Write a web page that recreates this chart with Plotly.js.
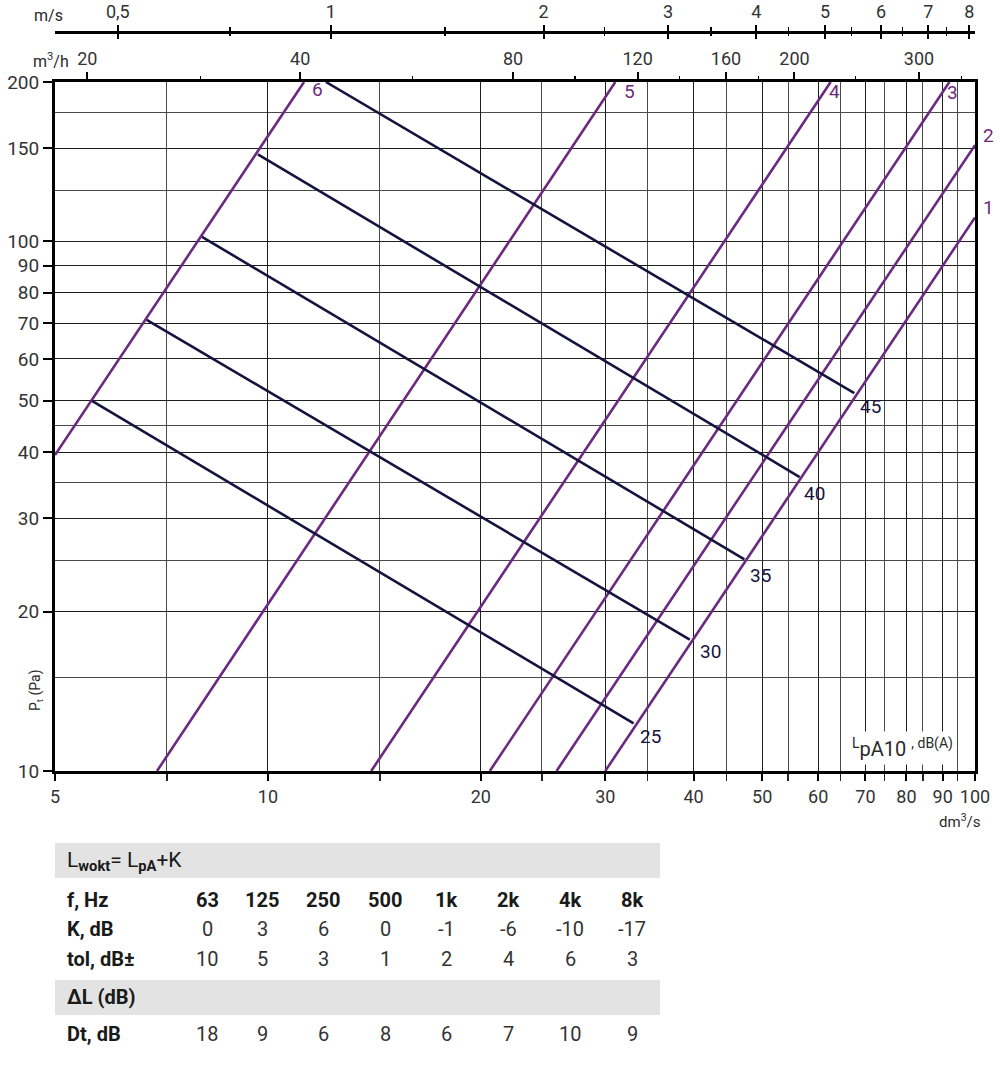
<!DOCTYPE html>
<html><head><meta charset="utf-8">
<script src="https://cdn.plot.ly/plotly-3.0.1.min.js"></script>
<style>html,body{margin:0;padding:0;background:#fff}</style>
</head><body>
<div id="chart" style="width:1000px;height:1071px"></div>
<script>
// ---- data ----
const flowTicks = [5,10,20,30,40,50,60,70,80,90,100];
const flowMinor = [7.2,14.4,24.4,34.4,44.5,54.4,64.5,74.5,84.4,94.4];
const pressTicks = [10,20,30,40,50,60,70,80,90,100,150,200];
const pressMinor = [15,25,35,45,125,175];
const velTicks = [0.5,1,2,3,4,5,6,7,8];
const velLabels = ['0,5','1','2','3','4','5','6','7','8'];
const velMinor = [0.72,1.45,2.44,3.45,4.44,5.45,6.44,7.43];
const m3hTicks = [20,40,80,120,160,200,300];
const m3hMinor = [28.9,57.7,97.8,137.6,177.9,243.9,344.4];

const curveNames = ['6','5','4','3','2','1'];
const curveQ = [[5,11.25],[6.97,31.0],[14.0,62.5],[20.6,92.0],[25.6,100],[30.0,100]];
const curveP = [[39.5,200],[10,200],[10,200],[10,200],[10,152],[10,111]];

const levelNames = ['45','40','35','30','25'];
const levelQ = [[12.08,67.5],[9.68,56.5],[8.07,47.2],[6.74,39.5],[5.64,32.9]];
const levelP = [[200,51.7],[146,35.9],[102,25.1],[71.1,17.7],[50.0,12.3]];

const freqs = ['63','125','250','500','1k','2k','4k','8k'];
const kValues = [0,3,6,0,-1,-6,-10,-17];
const tolValues = [10,5,3,1,2,4,6,3];
const dtValues = [18,9,6,8,6,7,10,9];

// ---- configuration ----
const DUCT_AREA = 12.27;   // dm2 (125 mm duct) : m/s = dm3/s / area
const M3H = 3.6;           // m3/h per dm3/s
const W = 1000, H = 1071, ML = 55, MR = 25;
const px2x = px => (px - ML) / (W - ML - MR);
const py2y = py => 1 - py / H;
const lg = Math.log10;
const FONT = 'Roboto, "Open Sans", sans-serif';
const PURPLE = '#6b2a7e';
const NAVY = '#17133f';
const TXT = '#2a2a2a';

const traces = [];
curveNames.forEach((n, i) => traces.push({
  x: curveQ[i], y: curveP[i], mode: 'lines', type: 'scatter',
  line: {color: PURPLE, width: 2.6}, hoverinfo: 'skip', showlegend: false
}));
levelNames.forEach((n, i) => traces.push({
  x: levelQ[i], y: levelP[i], mode: 'lines', type: 'scatter',
  line: {color: NAVY, width: 2.6}, hoverinfo: 'skip', showlegend: false
}));
// carriers for the secondary (top) axes
traces.push({x: velTicks, y: velTicks.map(() => 10), xaxis: 'x2', yaxis: 'y', mode: 'markers',
  marker: {opacity: 0}, hoverinfo: 'skip', showlegend: false});
traces.push({x: m3hTicks, y: m3hTicks.map(() => 10), xaxis: 'x3', yaxis: 'y', mode: 'markers',
  marker: {opacity: 0}, hoverinfo: 'skip', showlegend: false});
traces.push({x: velTicks, y: velTicks.map(() => 10), xaxis: 'x4', yaxis: 'y', mode: 'markers',
  marker: {opacity: 0}, hoverinfo: 'skip', showlegend: false});

const annotations = [];
function note(o) {
  annotations.push(Object.assign({showarrow: false, xanchor: 'center', yanchor: 'middle'}, o));
}
// curve labels
const curveShift = {'6':[13,-8],'5':[14,-10],'4':[4,-10],'3':[3,-11],'2':[13,10],'1':[13,10]};
curveNames.forEach((n, i) => note({
  xref: 'x', yref: 'y', x: lg(curveQ[i][1]), y: lg(curveP[i][1]), text: n,
  xshift: curveShift[n][0], yshift: curveShift[n][1], font: {family: FONT, size: 19, color: PURPLE}
}));
const levelShift = {'45':[16,-13],'40':[15,-16],'35':[16,-16],'30':[21,-12],'25':[17,-13]};
levelNames.forEach((n, i) => note({
  xref: 'x', yref: 'y', x: lg(levelQ[i][1]), y: lg(levelP[i][1]), text: n,
  xshift: levelShift[n][0], yshift: levelShift[n][1], font: {family: FONT, size: 19, color: NAVY}
}));
// axis texts
note({xref:'paper', yref:'paper', x: px2x(48), y: py2y(16), text: 'm/s', font:{family:FONT,size:16,color:TXT}});
note({xref:'paper', yref:'paper', x: px2x(51), y: py2y(60), text: 'm<sup>3</sup>/h', font:{family:FONT,size:16,color:TXT}});
note({xref:'paper', yref:'paper', x: px2x(959), y: py2y(821), text: 'dm<sup>3</sup>/s', font:{family:FONT,size:15,color:TXT}});
note({xref:'paper', yref:'paper', x: px2x(36), y: py2y(690), text: 'P<sub>t</sub> (Pa)', textangle: -90,
  font:{family:FONT,size:14,color:TXT}});
note({xref:'paper', yref:'paper', x: px2x(902), y: py2y(748), text: '<sup>L</sup>pA10 <sup>, dB(A)</sup>',
  bgcolor:'#ffffff', borderpad: 3, font:{family:FONT,size:20,color:TXT}});

// table
const colPx = [207,262,323,385,446,508,570,632];
const rowLabelPx = 65;
function rowText(label, vals, py, bold) {
  note({xref:'paper', yref:'paper', x: px2x(rowLabelPx), y: py2y(py), xanchor:'left',
    text: '<b>' + label + '</b>', font:{family:FONT,size:20,color:'#1a1a1a'}});
  vals.forEach((v, j) => note({xref:'paper', yref:'paper', x: px2x(colPx[j]), y: py2y(py),
    text: bold ? '<b>' + v + '</b>' : String(v),
    font:{family:FONT,size:20,color: bold ? '#1a1a1a' : '#333'}}));
}
note({xref:'paper', yref:'paper', x: px2x(rowLabelPx), y: py2y(861), xanchor:'left',
  text: 'L<sub><b>wokt</b></sub>= L<sub><b>pA</b></sub>+K', font:{family:FONT,size:21,color:'#1a1a1a'}});
rowText('f, Hz', freqs, 900, true);
rowText('K, dB', kValues, 929, false);
rowText('tol, dB±', tolValues, 959, false);
note({xref:'paper', yref:'paper', x: px2x(rowLabelPx), y: py2y(997), xanchor:'left',
  text: '<b>ΔL (dB)</b>', font:{family:FONT,size:20,color:'#1a1a1a'}});
rowText('Dt, dB', dtValues, 1034, false);

const shapes = [
  {type:'rect', xref:'paper', yref:'paper', x0: 0, x1: px2x(660), y0: py2y(878), y1: py2y(843),
    fillcolor:'#e3e3e3', line:{width:0}, layer:'below'},
  {type:'rect', xref:'paper', yref:'paper', x0: 0, x1: px2x(660), y0: py2y(1015), y1: py2y(980),
    fillcolor:'#e3e3e3', line:{width:0}, layer:'below'}
];

const tickFont = {family: FONT, size: 18, color: '#333'};
const velRange = [lg(5 / DUCT_AREA), lg(100 / DUCT_AREA)];
const layout = {
  width: W, height: H,
  margin: {l: ML, r: MR, t: 0, b: 0},
  paper_bgcolor: '#fff', plot_bgcolor: '#fff',
  showlegend: false,
  font: {family: FONT, color: TXT},
  xaxis: {
    type: 'log', range: [lg(5), 2], domain: [0, 1], anchor: 'y',
    tickmode: 'array', tickvals: flowTicks, ticktext: flowTicks.map(String),
    ticks: 'outside', ticklen: 7, tickwidth: 2, tickcolor: '#000',
    showline: true, linewidth: 3, linecolor: '#000', mirror: true,
    showgrid: true, gridcolor: '#1e1e1e', gridwidth: 1, zeroline: false,
    minor: {tickvals: flowMinor, ticks: 'outside', ticklen: 7, tickwidth: 1.5, tickcolor: '#222',
      showgrid: true, gridcolor: '#4a4a4a', gridwidth: 1},
    tickfont: tickFont
  },
  yaxis: {
    type: 'log', range: [1, lg(200)], domain: [py2y(771), py2y(82)], anchor: 'x',
    tickmode: 'array', tickvals: pressTicks, ticktext: pressTicks.map(String),
    ticks: 'outside', ticklen: 9, tickwidth: 2, tickcolor: '#000',
    showline: true, linewidth: 3, linecolor: '#000', mirror: true,
    showgrid: true, gridcolor: '#1e1e1e', gridwidth: 1, zeroline: false,
    minor: {tickvals: pressMinor, ticks: '', showgrid: true, gridcolor: '#4a4a4a', gridwidth: 1},
    tickfont: {family: FONT, size: 19, color: '#333'}
  },
  xaxis2: {
    type: 'log', overlaying: 'x', anchor: 'free', position: py2y(32), side: 'top',
    range: velRange, tickmode: 'array', tickvals: velTicks, ticktext: velLabels,
    ticks: 'outside', ticklen: 6, tickwidth: 2, tickcolor: '#000',
    showline: true, linewidth: 2.5, linecolor: '#000', showgrid: false, zeroline: false,
    minor: {tickvals: velMinor, ticks: 'outside', ticklen: 4, tickwidth: 1.5, tickcolor: '#000', showgrid: false},
    tickfont: tickFont
  },
  xaxis4: {
    type: 'log', overlaying: 'x', anchor: 'free', position: py2y(32), side: 'top',
    range: velRange, tickmode: 'array', tickvals: velTicks, showticklabels: false,
    ticks: 'inside', ticklen: 6, tickwidth: 2, tickcolor: '#000',
    showline: false, showgrid: false, zeroline: false,
    minor: {tickvals: velMinor, ticks: 'inside', ticklen: 3, tickwidth: 1.5, tickcolor: '#000', showgrid: false}
  },
  xaxis3: {
    type: 'log', overlaying: 'x', anchor: 'y', side: 'top',
    range: [lg(5 * M3H), lg(100 * M3H)], tickmode: 'array', tickvals: m3hTicks, ticktext: m3hTicks.map(String),
    ticks: 'outside', ticklen: 9, tickwidth: 2, tickcolor: '#000',
    showline: false, showgrid: false, zeroline: false,
    minor: {tickvals: m3hMinor, ticks: 'outside', ticklen: 5, tickwidth: 1.5, tickcolor: '#000', showgrid: false},
    tickfont: tickFont
  },
  annotations: annotations,
  shapes: shapes
};

Plotly.newPlot('chart', traces, layout, {displayModeBar: false, staticPlot: true});
</script>
</body></html>
